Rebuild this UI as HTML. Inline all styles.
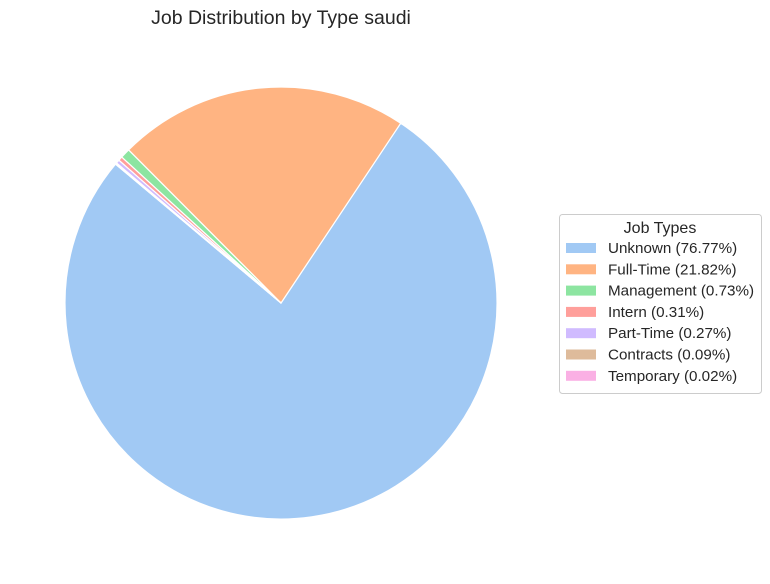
<!DOCTYPE html>
<html><head><meta charset="utf-8"><style>
html,body{margin:0;padding:0;background:#fff;}
svg{display:block;font-family:"Liberation Sans",Arial,sans-serif;}
</style></head><body>
<svg id="chart" width="770" height="584" viewBox="0 0 770 584">
<text x="281" y="24" text-anchor="middle" font-size="19.5" fill="#262626">Job Distribution by Type saudi</text>
<g id="slices"></g>
<g id="legend">
<rect x="559.5" y="214.5" width="202" height="179" rx="3" fill="#fff" stroke="#cccccc"/>
<text x="660" y="233" text-anchor="middle" font-size="16" fill="#262626">Job Types</text>
</g>
</svg>
<script>
const categories = ["Unknown","Full-Time","Management","Intern","Part-Time","Contracts","Temporary"];
const percents = [76.77,21.82,0.73,0.31,0.27,0.09,0.02];
const colors = ["#a1c9f4","#ffb482","#8de5a1","#ff9f9b","#d0bbff","#debb9b","#fab0e4"];
const cx=281, cy=303, r=216, startAngle=140;
const NS="http://www.w3.org/2000/svg";
const total=percents.reduce((a,b)=>a+b,0);
const g=document.getElementById('slices');
let a=startAngle;
function pt(deg){const t=deg*Math.PI/180;return [cx+r*Math.cos(t), cy-r*Math.sin(t)];}
percents.forEach((v,i)=>{
  const sweep=v/total*360;
  const p1=pt(a), p2=pt(a+sweep);
  const large=sweep>180?1:0;
  const path=document.createElementNS(NS,'path');
  path.setAttribute('d',`M${cx},${cy} L${p1[0]},${p1[1]} A${r},${r} 0 ${large} 0 ${p2[0]},${p2[1]} Z`);
  path.setAttribute('fill',colors[i]);
  path.setAttribute('stroke','#fff');
  path.setAttribute('stroke-width','1.2');
  path.setAttribute('stroke-linejoin','round');
  
  
  g.appendChild(path);
  a+=sweep;
});
const lg=document.getElementById('legend');
categories.forEach((c,i)=>{
  const y=248+i*21.3;
  const rc=document.createElementNS(NS,'rect');
  rc.setAttribute('x',566);rc.setAttribute('y',y-5);rc.setAttribute('width',30);rc.setAttribute('height',10);
  rc.setAttribute('fill',colors[i]);
  
  
  lg.appendChild(rc);
  const t=document.createElementNS(NS,'text');
  t.setAttribute('x',608);t.setAttribute('y',y+5);t.setAttribute('font-size','15.2');t.setAttribute('fill','#262626');
  t.textContent=`${c} (${percents[i].toFixed(2)}%)`;
  
  
  lg.appendChild(t);
});
</script>
</body></html>
